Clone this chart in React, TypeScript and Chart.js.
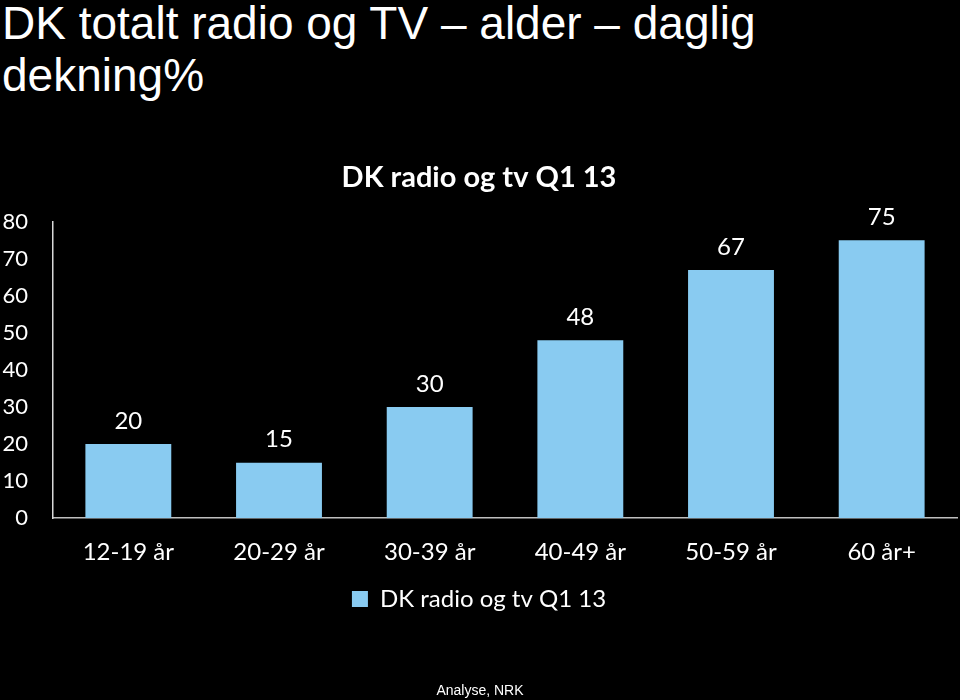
import React, { useEffect, useRef } from "react";
import { Chart, registerables } from "chart.js";

Chart.register(...registerables);

const categories = ["12-19 år", "20-29 år", "30-39 år", "40-49 år", "50-59 år", "60 år+"];
const values = [20, 15, 30, 48, 67, 75];
const seriesName = "DK radio og tv Q1 13";
const slideTitleLine1 = "DK totalt radio og TV – alder – daglig";
const slideTitleLine2 = "dekning%";
const footer = "Analyse, NRK";

const CAL = "Lato, 'Open Sans', sans-serif";

const labelPlugin = {
  id: "barLabels",
  afterDatasetsDraw(chart: any) {
    const ctx = chart.ctx;
    const meta = chart.getDatasetMeta(0);
    ctx.save();
    ctx.fillStyle = "#ffffff";
    ctx.font = `24px ${CAL}`;
    ctx.textAlign = "center";
    ctx.textBaseline = "bottom";
    meta.data.forEach((el: any, i: number) => {
      ctx.fillText(String(values[i]), el.x, el.y - 11);
    });
    ctx.restore();
  },
};

export default function App() {
  const ref = useRef<HTMLCanvasElement>(null);
  useEffect(() => {
    if (!ref.current) return;
    const chart = new Chart(ref.current, {
      type: "bar",
      data: {
        labels: categories,
        datasets: [
          {
            label: seriesName,
            data: values,
            backgroundColor: "#89CBF1",
            categoryPercentage: 0.57,
            barPercentage: 1,
          },
        ],
      },
      options: {
        animation: false,
        responsive: false,
        maintainAspectRatio: false,
        layout: { padding: { top: 150, left: 1, right: 3, bottom: 79 } },
        plugins: {
          title: {
            display: true,
            text: seriesName,
            color: "#ffffff",
            font: { family: CAL, size: 29, weight: "bold" },
            padding: { top: 10, bottom: 27 },
          },
          legend: {
            display: true,
            position: "bottom",
            labels: {
              color: "#ffffff",
              font: { family: CAL, size: 24 },
              boxWidth: 16,
              boxHeight: 16,
              padding: 0,
            },
          },
          tooltip: { enabled: false },
        },
        scales: {
          x: {
            grid: { display: false, drawTicks: false },
            border: { display: true, color: "#bfbfbf", width: 1.5 },
            ticks: { color: "#ffffff", font: { family: CAL, size: 24 }, padding: 20, maxRotation: 0 },
            afterFit: (scale: any) => {
              scale.paddingLeft = 0;
              scale.paddingRight = 0;
            },
          },
          y: {
            min: 0,
            max: 80,
            grid: { display: false, drawTicks: false },
            border: { display: true, color: "#d9d9d9", width: 1.5 },
            ticks: { stepSize: 10, color: "#ffffff", font: { family: CAL, size: 22 }, padding: 25 },
            afterFit: (scale: any) => {
              scale.width = 52;
            },
          },
        },
      },
      plugins: [labelPlugin],
    });
    return () => chart.destroy();
  }, []);

  return (
    <div style={{ position: "fixed", left: 0, top: 0, width: 960, height: 700, background: "#000", overflow: "hidden" }}>
      <div
        style={{
          position: "absolute",
          left: 2,
          top: -3,
          color: "#fff",
          fontFamily: "'Liberation Sans', Arial, sans-serif",
          fontSize: 46,
          lineHeight: "52px",
          whiteSpace: "nowrap",
        }}
      >
        <div>{slideTitleLine1}</div>
        <div>{slideTitleLine2}</div>
      </div>
      <canvas ref={ref} width={960} height={700} style={{ position: "absolute", left: 0, top: 0 }} />
      <div
        style={{
          position: "absolute",
          left: 0,
          width: 960,
          top: 682,
          textAlign: "center",
          color: "#fff",
          fontFamily: "'Liberation Sans', Arial, sans-serif",
          fontSize: 14,
        }}
      >
        {footer}
      </div>
    </div>
  );
}
